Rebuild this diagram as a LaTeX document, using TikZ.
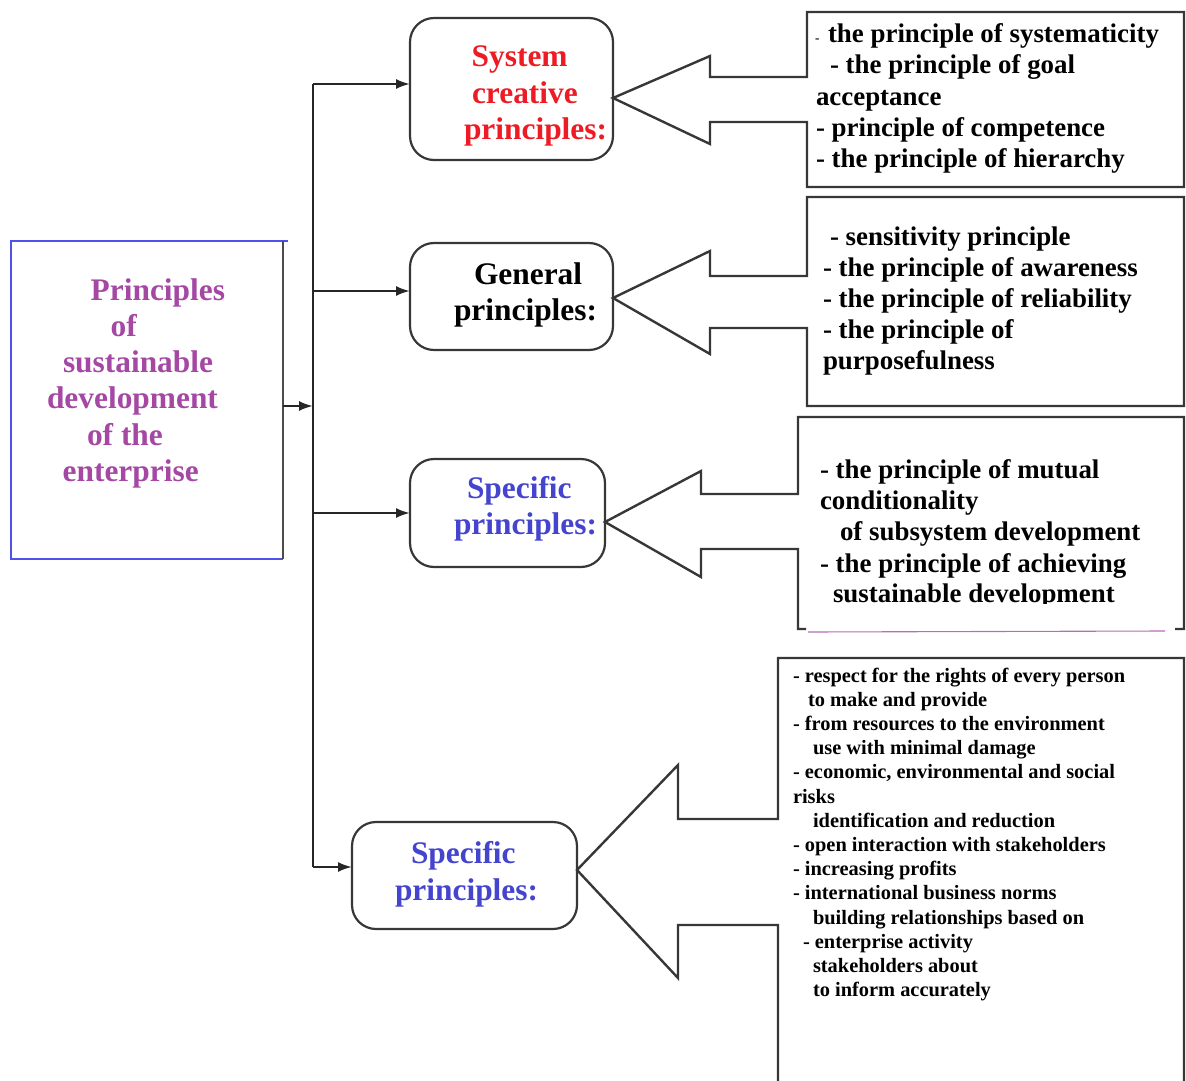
\documentclass[tikz,border=0pt]{standalone}
\usepackage{fontspec}
\setmainfont{Liberation Serif}
\usetikzlibrary{arrows.meta}
\definecolor{headred}{RGB}{237,28,36}
\definecolor{headblue}{RGB}{68,68,206}
\definecolor{headpurple}{RGB}{164,72,164}
\definecolor{edgeblue}{RGB}{80,80,235}
\definecolor{outline}{RGB}{55,55,55}
\begin{document}
\begin{tikzpicture}[x=1pt,y=-1pt,
  every node/.style={inner sep=0pt, outer sep=0pt},
  headtext/.style={font=\fontsize{31.4}{36}\selectfont\bfseries, anchor=base west},
  listtext/.style={font=\fontsize{26.9}{31}\selectfont\bfseries, anchor=base west},
  smalltext/.style={font=\fontsize{20.4}{24}\selectfont\bfseries, anchor=base west},
  rbox/.style={draw=outline, line width=2.2pt, rounded corners=24pt},
  link/.style={draw=black!85, line width=2.2pt, -{Latex[length=14pt,width=10pt]}},
  frame/.style={draw=outline, line width=2.4pt, line join=miter},
]
\useasboundingbox (0,0) rectangle (1186,1081);

% ---------- root box ----------
\node[minimum width=272pt, minimum height=318pt] (root) at (147,400) {};
\draw[edgeblue, line width=1.1pt] (288,241) -- (root.north west) -- (root.south west) -- (root.south east);
\draw[black!70, line width=1.5pt] (root.north east) -- (root.south east);
\foreach \n/\x/\y/\t in {1/90.7/300/Principles, 2/110.7/336/of, 3/63/372.5/sustainable,
                         4/47/408.8/development, 5/87/445/of the, 6/62.7/481.5/enterprise}
  \node[headtext, headpurple] (r\n) at (\x,\y) {\t};

% ---------- category boxes ----------
\node[rbox, minimum width=203pt, minimum height=142pt] (b1) at (511.5,89) {};
\node[rbox, minimum width=203pt, minimum height=107pt] (b2) at (511.5,296.5) {};
\node[rbox, minimum width=195pt, minimum height=108pt] (b3) at (507.5,513) {};
\node[rbox, minimum width=225pt, minimum height=107pt] (b4) at (464.5,875.5) {};

\node[headtext, headred] (h11) at (471.7,66.7) {System};
\node[headtext, headred] (h12) at (472,103) {creative};
\node[headtext, headred] (h13) at (464,139) {principles:};

\node[headtext] (h21) at (474,284) {General};
\node[headtext] (h22) at (454,320) {principles:};

\node[headtext, headblue] (h31) at (467,498) {Specific};
\node[headtext, headblue] (h32) at (454,534) {principles:};

\node[headtext, headblue] (h41) at (411,863) {Specific};
\node[headtext, headblue] (h42) at (395,900) {principles:};

% ---------- trunk and branches ----------
\coordinate (hub) at (313,406);
\coordinate (j1) at (313,84);
\coordinate (j2) at (313,291);
\coordinate (j3) at (313,513);
\coordinate (j4) at (313,867);
\draw[black!85, line width=2.8pt] (j1) -- (j4);
\draw[link] (root.east |- hub) -- (hub);
\draw[link] (j1) -- (j1 -| b1.west);
\draw[link] (j2) -- (j2 -| b2.west);
\draw[link] (j3) -- (j3 -| b3.west);
\draw[link] (j4) -- (j4 -| b4.west);

% ---------- block arrows merged with the list frames ----------
\draw[frame] (807,77) -- (807,12) -- (1184,12) -- (1184,187) -- (807,187) -- (807,122)
  -- (710,122) -- (710,144) -- (b1.east |- 0,98) -- (710,56) -- (710,77) -- cycle;
\draw[frame] (807,276) -- (807,197) -- (1184,197) -- (1184,406) -- (807,406) -- (807,328)
  -- (710,328) -- (710,354) -- (b2.east |- 0,298) -- (710,251) -- (710,276) -- cycle;
\draw[frame] (806,629) -- (798,629) -- (798,549) -- (701,549) -- (701,577)
  -- (b3.east |- 0,522) -- (701,471) -- (701,494) -- (798,494) -- (798,417)
  -- (1184,417) -- (1184,629) -- (1175,629);
\draw[headpurple!80, line width=1.1pt] (808,632) -- (1165,631);
\draw[frame] (778,1081) -- (778,925) -- (678,925) -- (678,978) -- (b4.east |- 0,870)
  -- (678,765) -- (678,819) -- (778,819) -- (778,658) -- (1184,658) -- (1184,1081);

% ---------- list texts ----------
\node[listtext] (a1) at (815,43) {{\fontsize{13}{13}\selectfont-}\hspace{8.7pt}the principle of systematicity};
\foreach \n/\x/\y/\t in {2/830/74/{- the principle of goal}, 3/816/105/acceptance,
                         4/816/136/{- principle of competence}, 5/816/167/{- the principle of hierarchy}}
  \node[listtext] (a\n) at (\x,\y) {\t};

\foreach \n/\x/\y/\t in {1/830/245/{- sensitivity principle}, 2/823/276/{- the principle of awareness},
                         3/823/307/{- the principle of reliability}, 4/823/338/{- the principle of},
                         5/823/369/purposefulness}
  \node[listtext] (g\n) at (\x,\y) {\t};

\foreach \n/\x/\y/\t in {1/820/478/{- the principle of mutual}, 2/820/509/conditionality,
                         3/840/540/{of subsystem development}, 4/820/572/{- the principle of achieving}}
  \node[listtext] (s\n) at (\x,\y) {\t};
\begin{scope}
  \clip (790,560) rectangle (1186,603.5);
  \node[listtext] (s5) at (833,602.5) {sustainable development};
\end{scope}

\foreach \n/\x/\t in {0/793/{- respect for the rights of every person},
                      1/808/{to make and provide},
                      2/793/{- from resources to the environment},
                      3/813/{use with minimal damage},
                      4/793/{- economic, environmental and social},
                      5/793/{risks},
                      6/813/{identification and reduction},
                      7/793/{- open interaction with stakeholders},
                      8/793/{- increasing profits},
                      9/793/{- international business norms},
                      10/813/{building relationships based on},
                      11/803/{- enterprise activity},
                      12/813/{stakeholders about},
                      13/813/{to inform accurately}}
  \node[smalltext] (p\n) at (\x,682+24.2*\n) {\t};
\end{tikzpicture}
\end{document}
